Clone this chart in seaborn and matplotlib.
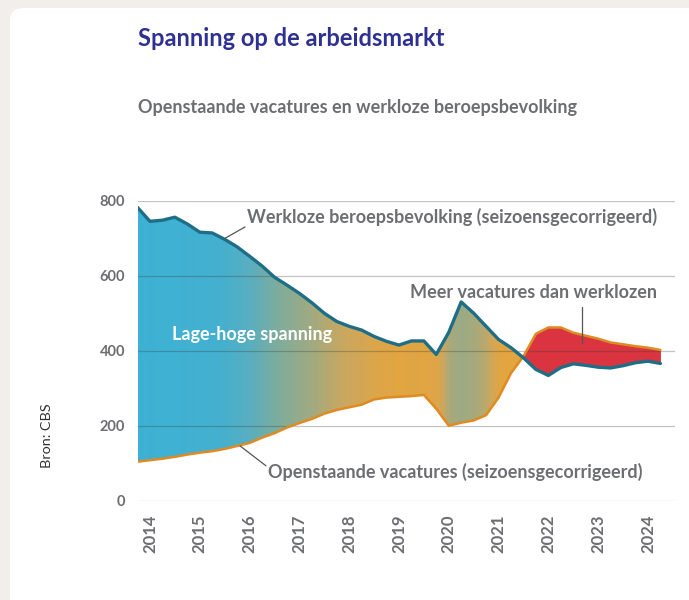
import numpy as np
import pandas as pd
import matplotlib
matplotlib.use("Agg")
import matplotlib.pyplot as plt
import seaborn as sns
from matplotlib.colors import LinearSegmentedColormap
from matplotlib.patches import FancyBboxPatch

# kwartalen 2014 K2 t/m 2024 K4, als decimale jaren
kwartalen = pd.date_range("2014-04-01", "2024-10-01", freq="QS")
jaar = np.array(kwartalen.year + (kwartalen.month - 1) / 12, dtype=float)

# x 1000
werkloos = [782, 745, 748, 756, 738, 716, 714, 697, 677, 652, 626, 596, 575, 553,
            528, 500, 478, 465, 455, 438, 425, 415, 426, 426, 390, 449, 530, 500,
            465, 430, 408, 381, 350, 334, 355, 365, 361, 356, 354, 360, 368, 372, 366]
vacatures = [104, 108, 112, 117, 123, 128, 132, 138, 146, 154, 168, 180, 195, 207,
             218, 232, 242, 249, 256, 270, 275, 277, 279, 282, 245, 200, 208, 214,
             228, 275, 340, 385, 445, 462, 462, 448, 440, 432, 422, 417, 412, 408, 402]

jaren = list(range(2014, 2025))
y_ticks = [0, 200, 400, 600, 800]

sns.set_style("white")
plt.rcParams["font.family"] = ["Lato", "DejaVu Sans"]

GRIJS = "#6d6e71"
W, H = 689, 600

fig = plt.figure(figsize=(W / 100, H / 100), dpi=100)
fig.patch.set_facecolor("#f2efea")
card = FancyBboxPatch((10 / W, -0.05), 1.2, 1 - 8 / H + 0.05,
                      boxstyle="round,pad=0,rounding_size=0.02",
                      transform=fig.transFigure, facecolor="white",
                      edgecolor="none", zorder=-5)
fig.patches.append(card)

ax = fig.add_axes([137.5 / W, 1 - 500.7 / H, (675 - 137.5) / W, 300 / H])
ax.set_facecolor("none")
ax.set_zorder(1)

# gebied tussen de lijnen, kleur volgens spanning (vacatures / werklozen)
vlak = ax.fill_between(jaar, vacatures, werkloos, color="none", lw=0)
xs = np.linspace(jaar[0], jaar[-1], 900)
ratio = np.interp(xs, jaar, vacatures) / np.interp(xs, jaar, werkloos)
r0, r1 = 0.13, 0.68
stops = [(0.13, "#3db2d5"), (0.19, "#44b0cf"), (0.236, "#5aaebf"), (0.30, "#7aad a0".replace(" ", "")),
         (0.374, "#95ab8a"), (0.464, "#b2a973"), (0.535, "#cea75c"),
         (0.616, "#dca64a"), (0.68, "#e3a540")]
cmap = LinearSegmentedColormap.from_list(
    "spanning", [((r - r0) / (r1 - r0), c) for r, c in stops])
kleuren = cmap(np.clip((ratio - r0) / (r1 - r0), 0, 1))[np.newaxis, :, :]
im = ax.imshow(kleuren, extent=[xs[0], xs[-1], 0, 800], aspect="auto",
               origin="lower", zorder=1, interpolation="bilinear")
im.set_clip_path(vlak.get_paths()[0], transform=ax.transData)

# meer vacatures dan werklozen
v = np.array(vacatures)
u = np.array(werkloos)
ax.fill_between(jaar, v, u, where=v > u, interpolate=True,
                color="#d9343f", lw=0, zorder=2)

for t in y_ticks:
    ax.axhline(t, color="#3a3a3a", alpha=0.3, lw=0.9, zorder=2.5)

df_w = pd.DataFrame({"jaar": jaar, "waarde": werkloos})
df_v = pd.DataFrame({"jaar": jaar, "waarde": vacatures})
sns.lineplot(data=df_v, x="jaar", y="waarde", color="#e08a22", lw=1.8, ax=ax, zorder=4)
sns.lineplot(data=df_w, x="jaar", y="waarde", color="#1d6e86", lw=2.4, ax=ax, zorder=5)

ax.set_xlim(2014.25, 2014.25 + (675 - 137.5) / 49.8)
ax.set_ylim(0, 800)
ax.set_xlabel("")
ax.set_ylabel("")
ax.set_xticks([j + 0.5 for j in jaren])
ax.set_xticklabels([str(j) for j in jaren], rotation=90, fontsize=12,
                   fontweight="bold", color=GRIJS)
ax.set_yticks(y_ticks)
ax.set_yticklabels([str(t) for t in y_ticks], fontsize=10.5,
                   fontweight="bold", color=GRIJS)
ax.tick_params(axis="both", length=0)
ax.tick_params(axis="x", pad=10)
ax.tick_params(axis="y", pad=9)
sns.despine(ax=ax, left=True, bottom=True)

# annotaties
tekst = dict(fontsize=13, fontweight="bold", color=GRIJS, va="center", zorder=6)
ax.text(2016.45, 756, "Werkloze beroepsbevolking (seizoensgecorrigeerd)", **tekst)
ax.plot([2016.01, 2016.41], [700, 730], color="#555555", lw=0.9, zorder=6)
ax.text(2024.68, 556, "Meer vacatures dan werklozen", ha="right", **tekst)
ax.plot([2023.18, 2023.18], [516, 420], color="#555555", lw=0.9, zorder=6)
ax.text(2016.87, 76, "Openstaande vacatures (seizoensgecorrigeerd)", **tekst)
ax.plot([2016.31, 2016.83], [146, 93], color="#555555", lw=0.9, zorder=6)
ax.text(2014.94, 444, "Lage-hoge spanning", fontsize=13, fontweight="bold",
        color="white", va="center", zorder=6)

fig.text(138 / W, 1 - 39 / H, "Spanning op de arbeidsmarkt", fontsize=17,
         fontweight="bold", color="#2e3192", va="center")
fig.text(138 / W, 1 - 108 / H, "Openstaande vacatures en werkloze beroepsbevolking",
         fontsize=13, fontweight="bold", color=GRIJS, va="center")
fig.text(47 / W, 1 - 436 / H, "Bron: CBS", rotation=90, fontsize=10.4,
         color="#333333", ha="center", va="center")

fig.savefig("out.png", dpi=100, facecolor=fig.get_facecolor())
